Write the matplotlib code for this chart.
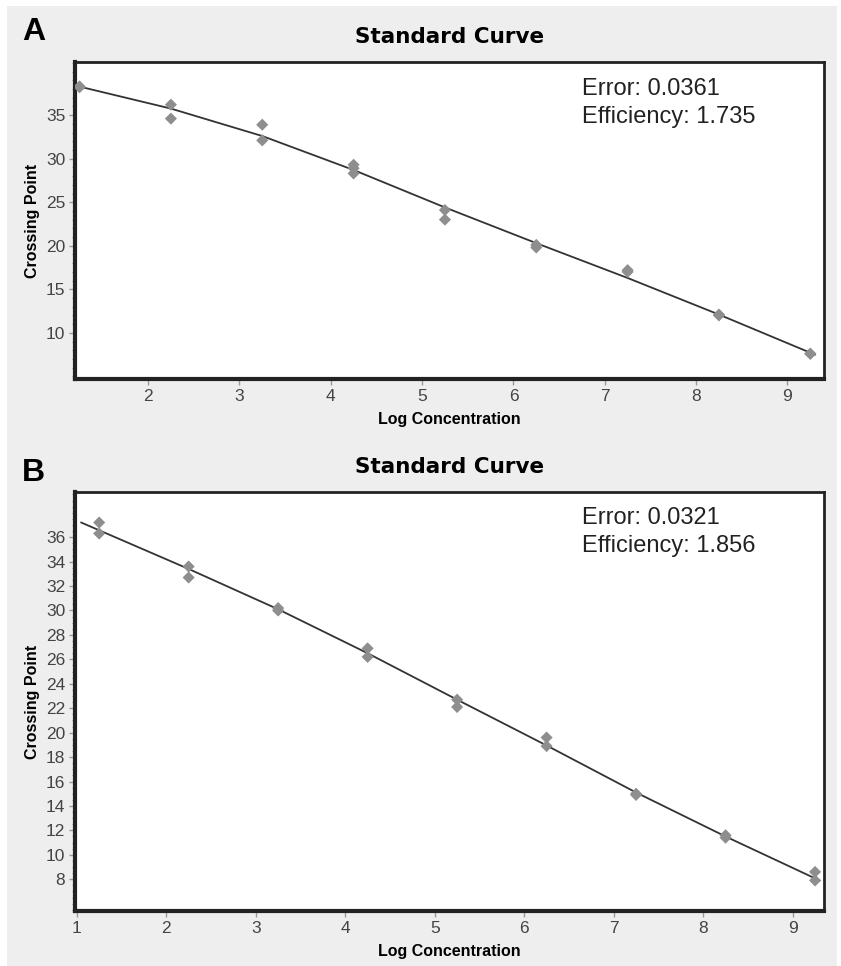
import numpy as np
import matplotlib
matplotlib.use("Agg")
import matplotlib.pyplot as plt
from matplotlib.patches import Rectangle
from matplotlib.ticker import MultipleLocator

# Panel A: replicate crossing points per dilution
a_conc = [1.25, 1.25, 2.25, 2.25, 3.25, 3.25, 4.25, 4.25, 4.25, 5.25, 5.25,
          6.25, 6.25, 7.25, 7.25, 8.25, 8.25, 9.25, 9.25]
a_cp = [38.3, 38.2, 36.2, 34.6, 33.9, 32.1, 29.3, 28.9, 28.3, 24.1, 23.0,
        20.1, 19.8, 17.2, 17.0, 12.1, 12.0, 7.6, 7.6]
# fitted standard curve, A
a_fit_x = [1.2, 2.25, 3.25, 4.25, 5.25, 6.25, 7.25, 8.25, 9.3]
a_fit_y = [38.4, 35.75, 32.6, 28.7, 24.4, 20.3, 16.3, 12.1, 7.5]
a_yticks = [10, 15, 20, 25, 30, 35]
a_error = "0.0361"
a_eff = "1.735"

# Panel B
b_conc = [1.25, 1.25, 2.25, 2.25, 3.25, 3.25, 4.25, 4.25, 5.25, 5.25,
          6.25, 6.25, 7.25, 7.25, 8.25, 8.25, 9.25, 9.25]
b_cp = [37.2, 36.3, 33.6, 32.7, 30.2, 30.0, 26.9, 26.2, 22.7, 22.1,
        19.6, 18.9, 15.0, 14.9, 11.6, 11.4, 8.6, 7.9]
# fitted standard curve, B
b_fit_x = [1.05, 2.25, 3.25, 4.25, 5.25, 6.25, 7.25, 8.25, 9.3]
b_fit_y = [37.2, 33.4, 30.1, 26.5, 22.7, 18.95, 15.1, 11.5, 7.9]
b_yticks = [8, 10, 12, 14, 16, 18, 20, 22, 24, 26, 28, 30, 32, 34, 36]
b_error = "0.0321"
b_eff = "1.856"

xticks_a = [2, 3, 4, 5, 6, 7, 8, 9]
xticks_b = [1, 2, 3, 4, 5, 6, 7, 8, 9]

W, H = 841, 966
fig = plt.figure(figsize=(W / 100, H / 100), dpi=100, facecolor="white")

# grey backdrop
fig.patches.append(Rectangle((7 / W, 0), (837 - 7) / W, 1 - 6 / H,
                             transform=fig.transFigure, facecolor="#eeeeee",
                             edgecolor="none", zorder=-10))

tick_color = "#444444"
frame_color = "#222222"


def panel(rect, conc, cp, fit_x, fit_y, xlim, ylim, yticks, yminor, xticks,
          err, eff, text_y, letter, letter_y):
    ax = fig.add_axes(rect)
    ax.set_facecolor("white")
    ax.set_xlim(*xlim)
    ax.set_ylim(*ylim)

    ax.plot(fit_x, fit_y, color="#333333", lw=1.3, zorder=2,
            solid_joinstyle="round")
    ax.scatter(conc, cp, marker="D", s=38, color="#8e8e8e",
               edgecolors="none", zorder=3)

    ax.set_xticks(xticks)
    ax.set_yticks(yticks)
    ax.yaxis.set_minor_locator(MultipleLocator(yminor))
    ax.tick_params(axis="both", which="major", length=4, width=1,
                   color="#999999", labelsize=12.5, labelcolor=tick_color,
                   pad=3)
    ax.tick_params(axis="y", which="minor", length=2.5, width=0.8,
                   color="#999999")
    for lbl in ax.get_xticklabels() + ax.get_yticklabels():
        lbl.set_fontfamily("Liberation Sans")

    for side in ("left", "bottom"):
        ax.spines[side].set_linewidth(3)
        ax.spines[side].set_color(frame_color)
    for side in ("top", "right"):
        ax.spines[side].set_linewidth(2)
        ax.spines[side].set_color(frame_color)

    ax.set_title("Standard Curve", fontsize=15.5, fontweight="bold",
                 family="DejaVu Sans", pad=14)
    ax.set_xlabel("Log Concentration", fontsize=11.5, fontweight="bold",
                  family="Liberation Sans", labelpad=6)
    ax.set_ylabel("Crossing Point", fontsize=11.5, fontweight="bold",
                  family="Liberation Sans", labelpad=4)

    ax.text(0.677, text_y, f"Error: {err}\nEfficiency: {eff}",
            transform=ax.transAxes, fontsize=17, family="Liberation Sans",
            color="#222222", va="top", ha="left", linespacing=1.38)
    fig.text(22 / W, letter_y, letter, fontsize=23, fontweight="bold",
             family="Liberation Sans", va="center", ha="left")
    return ax


panel([75 / W, 1 - 379 / H, 749 / W, 317 / H], a_conc, a_cp,
      a_fit_x, a_fit_y, (1.2, 9.4), (4.7, 41.1), a_yticks, 1, xticks_a,
      a_error, a_eff, 0.95, "A", 1 - 32 / H)

panel([75 / W, 1 - 911 / H, 749 / W, 419 / H], b_conc, b_cp,
      b_fit_x, b_fit_y, (0.98, 9.35), (5.4, 39.7), b_yticks, 0.5, xticks_b,
      b_error, b_eff, 0.965, "B", 1 - 473 / H)

fig.savefig("out.png", dpi=100, facecolor="white")
